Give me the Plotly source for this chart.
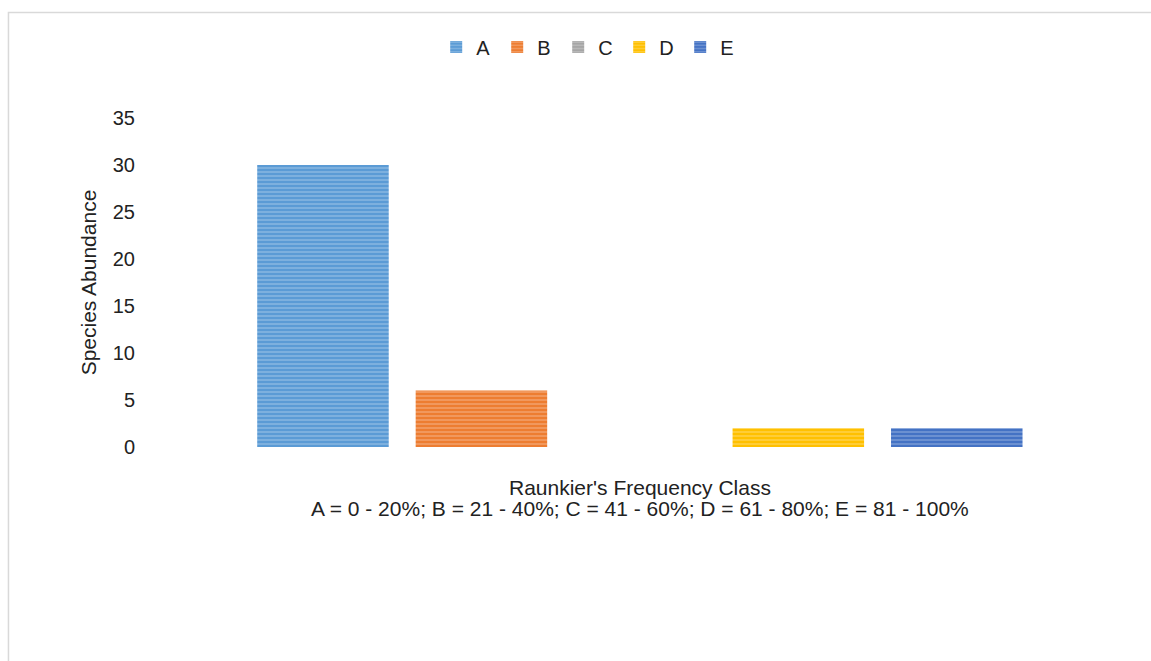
import plotly.graph_objects as go

categories = ["A", "B", "C", "D", "E"]
abundance = [30, 6, 0, 2, 2]
main_colors = ["#5B9BD5", "#ED7D31", "#A5A5A5", "#FFC000", "#4472C4"]
stripe_colors = ["#BDD7EE", "#F8CBAD", "#DBDBDB", "#FFE699", "#B4C7E7"]
y_ticks = [0, 5, 10, 15, 20, 25, 30, 35]
x_title_lines = ["Raunkier's Frequency Class",
                 "A = 0 - 20%; B = 21 - 40%; C = 41 - 60%; D = 61 - 80%; E = 81 - 100%"]
y_title = "Species Abundance"

FONT = "Liberation Sans, Arial, sans-serif"
FS = 20
TXT = "#222222"

fig = go.Figure()
for cat, val, mc, sc in zip(categories, abundance, main_colors, stripe_colors):
    fig.add_trace(go.Bar(
        x=[cat], y=[val], name=cat, width=0.83,
        marker=dict(
            color=mc,
            line=dict(width=0),
            pattern=dict(shape="-", size=4, solidity=0.35, fgcolor=sc,
                         bgcolor=mc, fillmode="overlay"),
        ),
        hoverinfo="x+y",
    ))

annotations = []
for line, ypos in zip(x_title_lines, [-0.1246, -0.1884]):
    annotations.append(dict(text=line, xref="paper", yref="paper", x=0.56, y=ypos,
                            xanchor="center", yanchor="middle", showarrow=False,
                            font=dict(family=FONT, size=21, color=TXT)))

fig.update_layout(
    width=1151, height=661,
    margin=dict(l=136, r=115, t=118, b=214),
    paper_bgcolor="white", plot_bgcolor="white",
    barmode="overlay",
    font=dict(family=FONT, size=FS, color=TXT),
    showlegend=True,
    legend=dict(orientation="h", x=0.503, xanchor="center", y=1.216, yanchor="middle",
                font=dict(size=FS, color=TXT), itemwidth=30,
                entrywidth=16, entrywidthmode="pixels",
                bgcolor="rgba(0,0,0,0)"),
    xaxis=dict(type="category", categoryorder="array", categoryarray=categories,
               range=[-1.18, 4.5], showticklabels=False, showgrid=False,
               zeroline=False, showline=False, ticks=""),
    yaxis=dict(range=[0, 35], tickvals=y_ticks, showgrid=False, zeroline=False,
               showline=False, ticks="",
               tickfont=dict(size=FS, color=TXT),
               title=dict(text=y_title, standoff=10, font=dict(size=21, color=TXT))),
    annotations=annotations,
    shapes=[dict(type="rect", xref="paper", yref="paper",
                 x0=-0.1417, x1=1.5, y0=-1.0, y1=1.3207,
                 line=dict(color="#D9D9D9", width=1.5), fillcolor="rgba(0,0,0,0)",
                 layer="below")],
)

fig.write_html("out.html")
